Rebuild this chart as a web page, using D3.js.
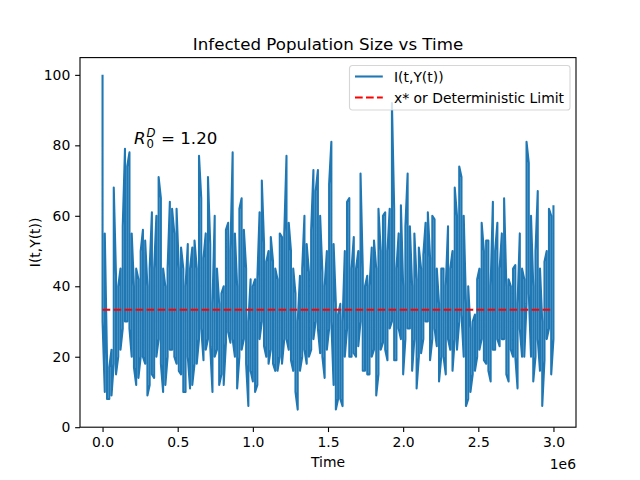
<!DOCTYPE html>
<html lang="en">
  <head>
    <meta charset="utf-8">
    <title>Infected Population Size vs Time</title>
    <script src="https://d3js.org/d3.v7.js"></script>
    <style>
      body { margin: 0; background: white; }
      text { font-family: "DejaVu Sans", sans-serif; }
    </style>
  </head>
  <body>
    <script type="text/javascript">

      // I(t,Y(t)), left to right, in five stretches.
      // The trace is so dense that each narrow time bin (about 2 px) is filled
      // from a low to a high value, so every entry is [low, high] for one bin.
      const binsA = [[30,100],[10,55],[8,19],[8,17],[9,22],[18,68],[15,43],[20,40],[22,45],[28,57],
        [30,79],[30,74],[28,78],[20,55],[17,40],[12,45],[14,42],[20,50],[20,56],[18,53],
        [9,40],[12,45],[15,61],[14,45],[20,60],[25,71],[18,65],[10,45],[12,40],[20,45],
        [22,64],[22,62],[20,55],[18,62],[16,45],[15,51],[10,45],[10,40],[20,52],[11,45]];
      const binsB = [[12,51],[18,53],[18,45],[25,77],[28,65],[19,48],[22,55],[25,71],[23,52],[10,35],
        [20,60],[22,45],[12,35],[15,38],[12,40],[24,56],[27,58],[24,50],[25,78],[20,55],
        [11,40],[20,62],[22,65],[25,56],[18,45],[6,30],[16,42],[13,40],[10,42],[12,42],
        [25,61],[30,70],[23,52],[20,47],[18,50],[22,54],[18,47],[16,45],[16,42],[20,55],[18,54]];
      const binsC = [[25,55],[25,77],[22,58],[19,50],[16,45],[10,38],[5,30],[16,43],[20,45],[22,60],
        [18,52],[20,44],[22,56],[25,73],[30,67],[28,73],[21,60],[20,44],[14,40],[22,50],
        [28,69],[30,81],[12,52],[5,35],[8,32],[8,35],[6,30],[20,50],[28,64],[20,65],
        [20,45],[21,54],[20,45],[23,50],[30,72],[16,45],[16,40],[15,43],[15,40],[20,51],[22,53]];
      const binsD = [[9,45],[15,62],[22,50],[24,60],[22,61],[19,50],[28,62],[30,92],[19,62],[19,45],
        [28,55],[25,63],[15,40],[25,57],[28,72],[28,57],[16,40],[25,55],[11,42],[20,51],
        [21,45],[25,49],[30,58],[30,61],[19,48],[25,60],[28,59],[23,45],[13,35],[20,45],
        [20,45],[15,40],[25,57],[22,45],[16,50],[25,68],[22,60],[30,74],[32,71],[20,60],[6,35]];
      const binsE = [[8,40],[10,28],[15,30],[16,32],[20,42],[22,45],[25,58],[19,50],[18,53],[16,53],
        [13,40],[22,64],[22,50],[25,58],[23,45],[25,55],[25,65],[15,40],[13,42],[22,40],
        [20,45],[20,46],[11,35],[28,55],[20,45],[20,42],[35,81],[38,75],[20,60],[13,40],
        [20,50],[25,67],[16,45],[6,30],[19,47],[25,50],[28,62],[15,60],[25,63]];

      const tEnd = 3e6;
      const xStar = 33.33;
      const xTicks = [0, 0.5e6, 1e6, 1.5e6, 2e6, 2.5e6, 3e6];
      const yTicks = [0, 20, 40, 60, 80, 100];
      const legendLabels = ["I(t,Y(t))", "x* or Deterministic Limit"];

      const bins = binsA.concat(binsB, binsC, binsD, binsE);
      const binStep = tEnd / (bins.length - 1);

      // walk each bin high->low or low->high in turn, as the dense trace would
      const series = [];
      bins.forEach((b, i) => {
        const t = i * binStep;
        const pair = i % 2 === 0 ? [b[1], b[0]] : [b[0], b[1]];
        pair.forEach(v => series.push({t: t, v: v}));
      });

      const w = 640;
      const h = 480;
      const margin = {top: 57.6, right: 64, bottom: 52.8, left: 80};
      const blue = "#1f77b4";

      const xScale = d3.scaleLinear()
        .domain([-0.05 * tEnd, 1.05 * tEnd])
        .range([margin.left, w - margin.right]);

      const yScale = d3.scaleLinear()
        .domain([0, 104.9])
        .range([h - margin.bottom, margin.top]);

      const svg = d3.select("body")
        .append("svg")
        .attr("width", w)
        .attr("height", h);

      svg.append("rect")
        .attr("width", w)
        .attr("height", h)
        .attr("fill", "white");

      // series
      const line = d3.line()
        .x(d => xScale(d.t))
        .y(d => yScale(d.v));

      svg.append("path")
        .datum(series)
        .attr("d", line)
        .attr("fill", "none")
        .attr("stroke", blue)
        .attr("stroke-width", 2.08)
        .attr("stroke-linejoin", "round");

      // deterministic limit
      svg.append("line")
        .attr("x1", xScale(0))
        .attr("x2", xScale(tEnd))
        .attr("y1", yScale(xStar))
        .attr("y2", yScale(xStar))
        .attr("stroke", "red")
        .attr("stroke-width", 2.08)
        .attr("stroke-dasharray", "7.7 3.3");

      // axes
      const xAxis = d3.axisBottom(xScale)
        .tickValues(xTicks)
        .tickFormat(d => (d / 1e6).toFixed(1))
        .tickSize(4.86)
        .tickPadding(4.86);

      const yAxis = d3.axisLeft(yScale)
        .tickValues(yTicks)
        .tickFormat(d3.format("d"))
        .tickSize(4.86)
        .tickPadding(4.86);

      const gx = svg.append("g")
        .attr("transform", `translate(0, ${h - margin.bottom})`)
        .call(xAxis);

      const gy = svg.append("g")
        .attr("transform", `translate(${margin.left}, 0)`)
        .call(yAxis);

      [gx, gy].forEach(g => {
        g.select(".domain").remove();
        g.selectAll("line").attr("stroke", "black").attr("stroke-width", 1.1);
        g.selectAll("text")
          .attr("fill", "black")
          .style("font-size", "13.9px")
          .style("font-family", "DejaVu Sans");
      });

      svg.append("rect")
        .attr("x", margin.left)
        .attr("y", margin.top)
        .attr("width", w - margin.left - margin.right)
        .attr("height", h - margin.top - margin.bottom)
        .attr("fill", "none")
        .attr("stroke", "black")
        .attr("stroke-width", 1.1);

      // labels
      svg.append("text")
        .attr("x", (margin.left + w - margin.right) / 2)
        .attr("y", 49.5)
        .attr("text-anchor", "middle")
        .style("font-size", "16.67px")
        .text("Infected Population Size vs Time");

      svg.append("text")
        .attr("x", (margin.left + w - margin.right) / 2)
        .attr("y", 467)
        .attr("text-anchor", "middle")
        .style("font-size", "13.9px")
        .text("Time");

      svg.append("text")
        .attr("x", w - margin.right)
        .attr("y", 469)
        .attr("text-anchor", "end")
        .style("font-size", "13.9px")
        .text("1e6");

      svg.append("text")
        .attr("transform", `translate(40, ${(margin.top + h - margin.bottom) / 2}) rotate(-90)`)
        .attr("text-anchor", "middle")
        .style("font-size", "13.9px")
        .text("I(t,Y(t))");

      // R_0^D annotation, one text with sub/superscript tspans
      const ann = svg.append("text")
        .attr("x", 134)
        .attr("y", 144)
        .style("font-size", "16.67px");
      ann.append("tspan")
        .style("font-style", "italic")
        .text("R");
      ann.append("tspan")
        .attr("x", 146.5)
        .attr("dy", 4)
        .style("font-size", "11.7px")
        .text("0");
      ann.append("tspan")
        .attr("x", 146.5)
        .attr("dy", -11.5)
        .style("font-size", "11.7px")
        .style("font-style", "italic")
        .text("D");
      ann.append("tspan")
        .attr("x", 161)
        .attr("dy", 7.5)
        .text("= 1.20");

      // legend
      const legend = svg.append("g").attr("transform", "translate(349.5, 65.5)");
      legend.append("rect")
        .attr("width", 220.5)
        .attr("height", 44.5)
        .attr("rx", 2.8)
        .attr("fill", "white")
        .attr("fill-opacity", 0.8)
        .attr("stroke", "#cccccc")
        .attr("stroke-opacity", 0.8)
        .attr("stroke-width", 1.1);

      const rows = legend.selectAll("g.row")
        .data(legendLabels)
        .enter()
        .append("g")
        .attr("class", "row")
        .attr("transform", (d, i) => `translate(0, ${11 + i * 21})`);

      rows.append("line")
        .attr("x1", 5.5)
        .attr("x2", 33.3)
        .attr("stroke", (d, i) => i === 0 ? blue : "red")
        .attr("stroke-width", 2.08)
        .attr("stroke-dasharray", (d, i) => i === 0 ? null : "7.7 3.3");

      rows.append("text")
        .attr("x", 44.5)
        .attr("y", 5)
        .style("font-size", "13.9px")
        .text(d => d);

    </script>
  </body>
</html>
